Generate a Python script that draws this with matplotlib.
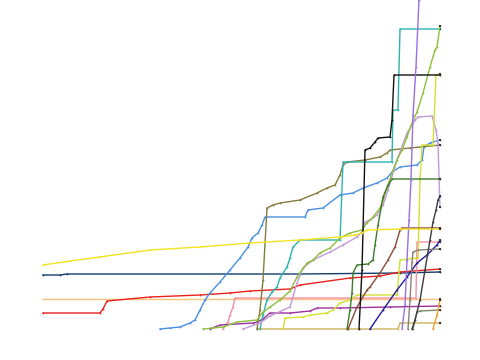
import matplotlib
matplotlib.use("Agg")
import matplotlib.pyplot as plt

# day index (x) and cumulative count (y) per series
beige_x = [0, 397]
beige_y = [30, 30]

yellow_x = [0, 27, 57, 107, 157, 207, 257, 297, 312, 319, 324, 357, 397]
yellow_y = [64, 68, 72, 79, 82, 86, 89, 92, 94, 96, 99, 100, 100]

navy_x = [0, 17, 24, 257, 357, 397]
navy_y = [54, 54, 55, 55, 56, 57]

red_x = [0, 57, 60, 64, 107, 157, 187, 207, 247, 257, 307, 337, 357, 397]
red_y = [16, 16, 20, 28, 32, 34, 36, 38, 40, 44, 51, 53, 57, 60]

blue_x = [117, 127, 137, 147, 152, 157, 162, 167, 177, 187, 197, 205, 209, 215,
          219, 222, 262, 265, 280, 297, 310, 320, 334, 344, 349, 357, 374, 379,
          381, 387, 397]
blue_y = [0, 1, 2, 6, 9, 19, 29, 36, 47, 59, 71, 82, 91, 96, 104, 112, 112, 119,
          121, 134, 136, 141, 146, 151, 157, 162, 164, 169, 182, 186, 189]

olive_x = [214, 217, 220, 224, 230, 237, 257, 274, 284, 292, 297, 300, 304, 322,
           337, 344, 347, 367, 397]
olive_y = [0, 19, 49, 121, 124, 126, 129, 136, 141, 144, 154, 164, 167, 169, 172,
           176, 179, 181, 184]

teal_x = [217, 220, 224, 229, 234, 237, 244, 247, 250, 257, 297, 300, 349, 350,
          355, 357, 397]
teal_y = [0, 14, 29, 37, 42, 51, 62, 71, 82, 89, 89, 167, 167, 219, 219, 300, 300]

black_x = [316, 319, 322, 327, 332, 335, 347, 349, 351, 397]
black_y = [0, 59, 179, 181, 187, 191, 192, 209, 254, 254]

charcoal_x = [369, 372, 377, 382, 387, 390, 393, 395, 397]
charcoal_y = [0, 9, 29, 59, 89, 107, 119, 129, 133]

purple_x = [359, 362, 364, 366, 368, 370, 373, 376, 381]
purple_y = [0, 24, 69, 109, 149, 214, 262, 329, 429]

ygreen_x = [160, 180, 194, 214, 219, 227, 237, 247, 254, 264, 270, 277, 287, 297,
            307, 319, 324, 330, 337, 340, 344, 350, 354, 359, 364, 369, 374, 380,
            387, 392, 394, 397]
ygreen_y = [0, 2, 7, 9, 16, 22, 29, 38, 52, 66, 69, 76, 81, 91, 96, 99, 106, 112,
            121, 129, 141, 159, 169, 179, 192, 206, 217, 236, 262, 279, 282, 303]

dgreen_x = [304, 307, 309, 310, 314, 325, 330, 332, 335, 340, 345, 349, 397]
dgreen_y = [0, 19, 36, 56, 64, 65, 69, 84, 104, 132, 144, 150, 150]

mauve_x = [200, 217, 227, 247, 254, 260, 270, 287, 300, 314, 319, 322, 327, 334,
           340, 345, 354, 364, 372, 375, 389, 393, 395, 396, 397]
mauve_y = [0, 6, 13, 22, 46, 61, 69, 77, 84, 92, 97, 107, 109, 114, 124, 139, 169,
           196, 209, 212, 213, 199, 186, 152, 122]

pink_x = [180, 185, 187, 190, 192, 373, 374, 397]
pink_y = [0, 7, 14, 22, 31, 31, 87, 87]

magenta_x = [167, 177, 210, 214, 220, 227, 247, 267, 274, 297, 347, 397]
magenta_y = [0, 4, 6, 7, 10, 16, 16, 18, 21, 21, 22, 23]

lime_x = [240, 242, 260, 267, 284, 290, 297, 307, 314, 354, 357, 375, 377, 379,
          390, 393, 397]
lime_y = [0, 11, 12, 14, 16, 19, 26, 29, 34, 34, 69, 71, 149, 184, 184, 254, 255]

brown_x = [305, 314, 324, 327, 337, 345, 352, 357, 359, 397]
brown_y = [0, 22, 39, 42, 56, 69, 82, 99, 101, 101]

indigo_x = [327, 340, 354, 364, 374, 384, 394, 397]
indigo_y = [0, 19, 39, 52, 66, 74, 84, 89]

taupe_x = [365, 367, 369, 370, 375, 397]
taupe_y = [0, 29, 67, 77, 79, 80]

sage_x = [370, 374, 377, 397]
sage_y = [0, 17, 18, 19]

khaki_x = [214, 355, 357, 397]
khaki_y = [0, 0, 6, 6]

orange_x = [390, 394, 397]
orange_y = [0, 14, 29]

series = [
    (beige_x, beige_y, "#f6c47a"),
    (khaki_x, khaki_y, "#c9b55a"),
    (navy_x, navy_y, "#123d6a"),
    (red_x, red_y, "#e8211c"),
    (pink_x, pink_y, "#f48fa6"),
    (magenta_x, magenta_y, "#9c2fa0"),
    (blue_x, blue_y, "#4a8fe0"),
    (olive_x, olive_y, "#857a3c"),
    (teal_x, teal_y, "#2ab3b0"),
    (mauve_x, mauve_y, "#c49ad6"),
    (ygreen_x, ygreen_y, "#8dc03c"),
    (lime_x, lime_y, "#d2e232"),
    (dgreen_x, dgreen_y, "#3d7a2a"),
    (brown_x, brown_y, "#8a4a35"),
    (indigo_x, indigo_y, "#1c1c9a"),
    (taupe_x, taupe_y, "#8b8078"),
    (sage_x, sage_y, "#7d8a6a"),
    (orange_x, orange_y, "#f0a030"),
    (black_x, black_y, "#111111"),
    (charcoal_x, charcoal_y, "#3a3a3a"),
    (purple_x, purple_y, "#9b6fe0"),
    (yellow_x, yellow_y, "#f2e31f"),
]

fig = plt.figure(figsize=(4.8, 3.6), dpi=100)
ax = fig.add_axes([43 / 480, 31 / 360, 397 / 480, 329 / 360])
for xs, ys, col in series:
    inside = max(ys) <= 329
    ax.plot(xs, ys, color=col, lw=1.0, marker="o", markersize=1.3,
            markeredgewidth=0, clip_on=not inside)
    if ys[-1] <= 329:
        ax.plot(xs[-1], ys[-1], marker="s", markersize=1.6, color="#333333",
                markeredgewidth=0, clip_on=False)
ax.set_xlim(0, 397)
ax.set_ylim(0, 329)
ax.axis("off")
fig.savefig("out.png", dpi=100)
